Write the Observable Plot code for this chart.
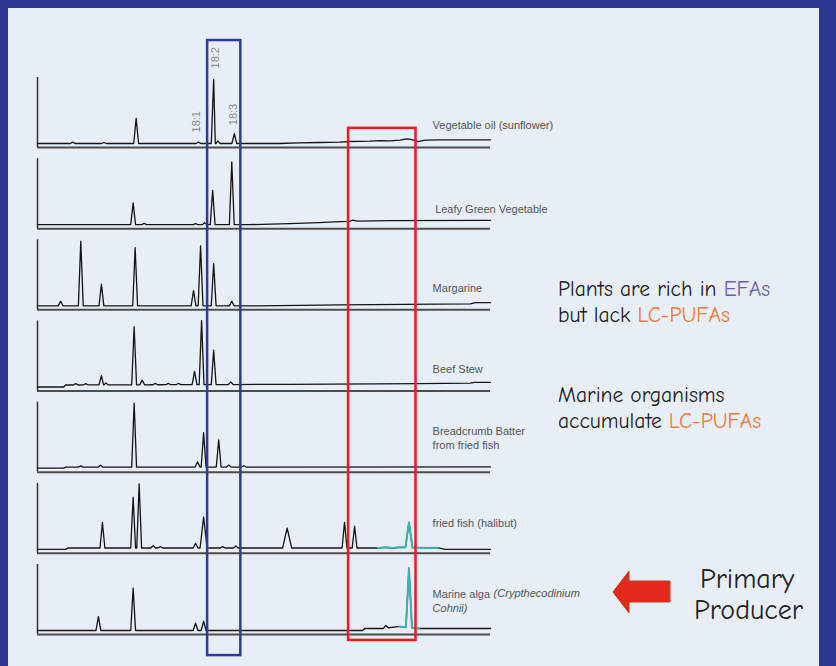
<!DOCTYPE html>
<html><head><meta charset="utf-8">
<script src="https://cdn.jsdelivr.net/npm/d3@7"></script>
<script src="https://cdn.jsdelivr.net/npm/@observablehq/plot@0.6"></script>
<style>
html,body{margin:0;padding:0;background:#2c3592;}
#wrap{position:relative;width:836px;height:666px;overflow:hidden;background:#2c3592;}
#panel{position:absolute;left:8px;top:8px;width:811px;height:660px;background:#e7eef6;}
#chart{position:absolute;left:0;top:0;}
</style></head><body>
<div id="wrap"><div id="panel"></div><div id="chart"></div></div>
<script>
// ---- data -------------------------------------------------------------
const samples = ["Vegetable oil (sunflower)", "Leafy Green Vegetable", "Margarine", "Beef Stew",
  "Breadcrumb Batter from fried fish", "fried fish (halibut)", "Marine alga (Crypthecodinium Cohnii)"];

// peaks: [retention time (min), height (% full scale), optional half-width (min)]
const vegOilPeaks   = [[3.5,2],[6.6,1.5],[9.8,38],[16.0,2],[17.5,97],[17.9,4],[19.55,15]];
const leafyPeaks    = [[9.5,33],[10.6,2],[15.7,1.5],[16.6,3],[17.4,52],[19.3,95]];
const margarinePeaks= [[2.3,7],[4.3,98],[6.35,33],[9.7,88],[15.5,23],[16.2,91],[17.5,64],[19.3,7]];
const beefPeaks     = [[3.8,2],[4.8,2],[6.35,14],[6.8,3],[9.6,88],[10.4,7],[11.7,2],[13.0,2],[14.0,2],[15.6,20],[16.3,97],[17.5,52],[19.2,4]];
const breadPeaks    = [[4.3,2],[6.25,3],[9.6,97],[15.9,8],[16.5,52],[18.0,41],[19.0,3],[20.5,2]];
const fishPeaks     = [[6.45,39],[9.5,77],[10.1,97],[11.5,4],[12.2,2],[15.7,7],[16.5,47,0.35],[18.4,2],[19.7,3],[24.8,30,0.45],[30.5,39],[31.5,33],[36.9,38,0.35]];
const algaPeaks     = [[6.05,21],[9.5,64],[15.7,11],[16.5,14],[34.6,4],[36.9,90,0.3]];

// baseline drift: [retention time, level]
const vegOilDrift   = [[0,0],[24,0],[26,1],[28,1.5],[30,2],[31,3],[33,3.5],[34,4.5],[35,4],[36,5],[36.7,7],[37.2,6],[37.8,3],[38.5,5],[40,5.5],[45,5.5]];
const leafyDrift    = [[0,0],[21,0],[25,1.5],[28,3],[30,4.5],[31,5],[31.3,7],[31.8,5.5],[35,6],[45,6.5]];
const margarineDrift= [[0,0],[22,0],[30,1.5],[43,3],[43.5,5],[45,5]];
const beefDrift     = [[0,0],[2.6,0],[2.8,3],[25,4],[38,5],[43,6],[43.4,7],[45,7]];
const breadDrift    = [[0,0],[2.6,0],[2.8,1.5],[45,2]];
const fishDrift     = [[0,0],[2.8,0],[3.0,2],[33,2],[33.8,2],[34.6,3],[35.3,2],[36.0,3],[38.0,2.5],[38.8,2],[39.7,2.5],[40.5,0],[45,0]];
const algaDrift     = [[0,0],[32.3,0],[32.5,3],[34.3,3],[35.8,6],[35.95,6],[37.5,3.5],[37.9,3],[45,3]];

// LC-PUFA region traced in teal: [start, end] retention time
const tealWindows = [null, null, null, null, null, [33.8,39.7], [35.9,37.9]];

const fattyAcidLabels = [["18:1",15.8,33],["18:2",17.65,130],["18:3",19.5,44]];
const highlightBoxes = [
  {name:"C18 EFAs", t1:16.9, t2:20.2, top:894, bottom:-38, color:"#2d3a9c"},
  {name:"LC-PUFAs", t1:30.9, t2:37.6, top:761, bottom:-15, color:"#ec1c1c"}
];

// ---- build ------------------------------------------------------------
const peaksList = [vegOilPeaks, leafyPeaks, margarinePeaks, beefPeaks, breadPeaks, fishPeaks, algaPeaks];
const driftList = [vegOilDrift, leafyDrift, margarineDrift, beefDrift, breadDrift, fishDrift, algaDrift];
const STEP = 123;
const rows = samples.map((s, i) => ({sample: s, i, offset: (samples.length - 1 - i) * STEP}));

function driftAt(drift, t) {
  for (let k = 1; k < drift.length; k++) {
    if (t <= drift[k][0]) {
      const [t0, v0] = drift[k-1], [t1, v1] = drift[k];
      return v0 + (v1 - v0) * (t - t0) / (t1 - t0);
    }
  }
  return drift[drift.length-1][1];
}

const points = [];
const tealPoints = [];
rows.forEach(r => {
  const drift = driftList[r.i], peaks = peaksList[r.i];
  const wins = peaks.map(p => [p[0] - (p[2] || 0.24), p[0] + (p[2] || 0.24)]);
  const pts = drift.filter(d => !wins.some(w => d[0] > w[0] && d[0] < w[1])).map(d => [d[0], d[1]]);
  peaks.forEach(p => {
    const w = p[2] || 0.24;
    pts.push([p[0] - w, driftAt(drift, p[0] - w)]);
    pts.push([p[0], driftAt(drift, p[0]) + p[1]]);
    pts.push([p[0] + w, driftAt(drift, p[0] + w)]);
  });
  pts.sort((a, b) => a[0] - b[0]);
  pts.forEach(([t, v]) => {
    const d = {sample: r.sample, t, y: r.offset + v};
    points.push(d);
    const win = tealWindows[r.i];
    if (win && t >= win[0] && t <= win[1]) tealPoints.push(d);
  });
});

const labelFont = "Liberation Sans, Arial, sans-serif";
const sampleLabels = [
  {text:"Vegetable oil (sunflower)", row:0, v:29, dt:0},
  {text:"Leafy Green Vegetable", row:1, v:25, dt:0.25},
  {text:"Margarine", row:2, v:28, dt:0},
  {text:"Beef Stew", row:3, v:28, dt:0},
  {text:"Breadcrumb Batter\nfrom fried fish", row:4, v:46, dt:0},
  {text:"fried fish (halibut)", row:5, v:41, dt:0},
  {text:"Marine alga", row:6, v:56, dt:0},
];

const plot = Plot.plot({
  width: 836, height: 666,
  marginLeft: 0, marginRight: 0, marginTop: 0, marginBottom: 0,
  style: {background: "transparent", overflow: "visible"},
  x: {domain: [0, 45], range: [37, 490], axis: null},
  y: {domain: [0, 6 * STEP], range: [630, 143], axis: null},
  marks: [
    Plot.ruleY(rows, {y: d => d.offset - 6, x1: 0, x2: 45, stroke: "#4d4d4d", strokeWidth: 2}),
    Plot.ruleX(rows, {x: 0, y1: d => d.offset - 6, y2: d => d.offset + 100, stroke: "#333", strokeWidth: 1.5}),
    Plot.line(points, {x: "t", y: "y", z: "sample", stroke: "#141414", strokeWidth: 1.3, curve: "linear"}),
    Plot.line(tealPoints, {x: "t", y: "y", z: "sample", stroke: "#3cb3a8", strokeWidth: 2, curve: "linear"}),
    Plot.text(sampleLabels, {x: d => 39.25 + d.dt, y: d => rows[d.row].offset + d.v, text: "text",
      textAnchor: "start", fontSize: 11, fill: "#555", fontFamily: labelFont, lineHeight: 1.27}),
    Plot.text(["(Crypthecodinium"], {x: 39.25, y: rows[6].offset + 56, text: d => d, dx: 61,
      textAnchor: "start", fontSize: 11, fill: "#555", fontFamily: labelFont, fontStyle: "italic"}),
    Plot.text(["Cohnii)"], {x: 39.25, y: rows[6].offset + 33, text: d => d,
      textAnchor: "start", fontSize: 11, fill: "#555", fontFamily: labelFont, fontStyle: "italic"}),
    Plot.text(fattyAcidLabels, {x: d => d[1], y: d => rows[0].offset + d[2], text: d => d[0], rotate: -90,
      fontSize: 11, fill: "#888", fontFamily: labelFont}),
    Plot.rect(highlightBoxes, {x1: "t1", x2: "t2", y1: "bottom", y2: "top", fill: "none", stroke: "color", strokeWidth: 2.5})
  ]
});
document.getElementById("chart").appendChild(plot);

// ---- annotations ------------------------------------------------------
const svg = d3.select(plot);
const note = svg.append("g")
  .attr("font-family", "'Comic Sans MS', 'Comic Neue', Lato, 'Open Sans', sans-serif")
  .attr("text-anchor", "start").attr("fill", "#222");
function addLine(x, y, size, parts) {
  const t = note.append("text").attr("x", x).attr("y", y).attr("font-size", size).attr("text-anchor", "start");
  parts.forEach(([s, c]) => t.append("tspan").attr("fill", c).text(s));
}
const purple = "#6a63a8", orange = "#f07a3a", ink = "#222";
addLine(558, 296, 21.5, [["Plants are rich in ", ink], ["EFAs", purple]]);
addLine(558, 322, 21.5, [["but lack ", ink], ["LC-PUFAs", orange]]);
addLine(558, 402, 21.5, [["Marine organisms", ink]]);
addLine(558, 428, 21.5, [["accumulate ", ink], ["LC-PUFAs", orange]]);
addLine(700, 588, 28, [["Primary", ink]]);
addLine(694, 619, 28, [["Producer", ink]]);
svg.append("path")
  .attr("d", "M613,592 L629,571 L629,581 L670,581 L670,602 L629,602 L629,613 Z")
  .attr("fill", "#e52a1c").attr("stroke", "#b8402a").attr("stroke-width", 1);
</script>
</body></html>
